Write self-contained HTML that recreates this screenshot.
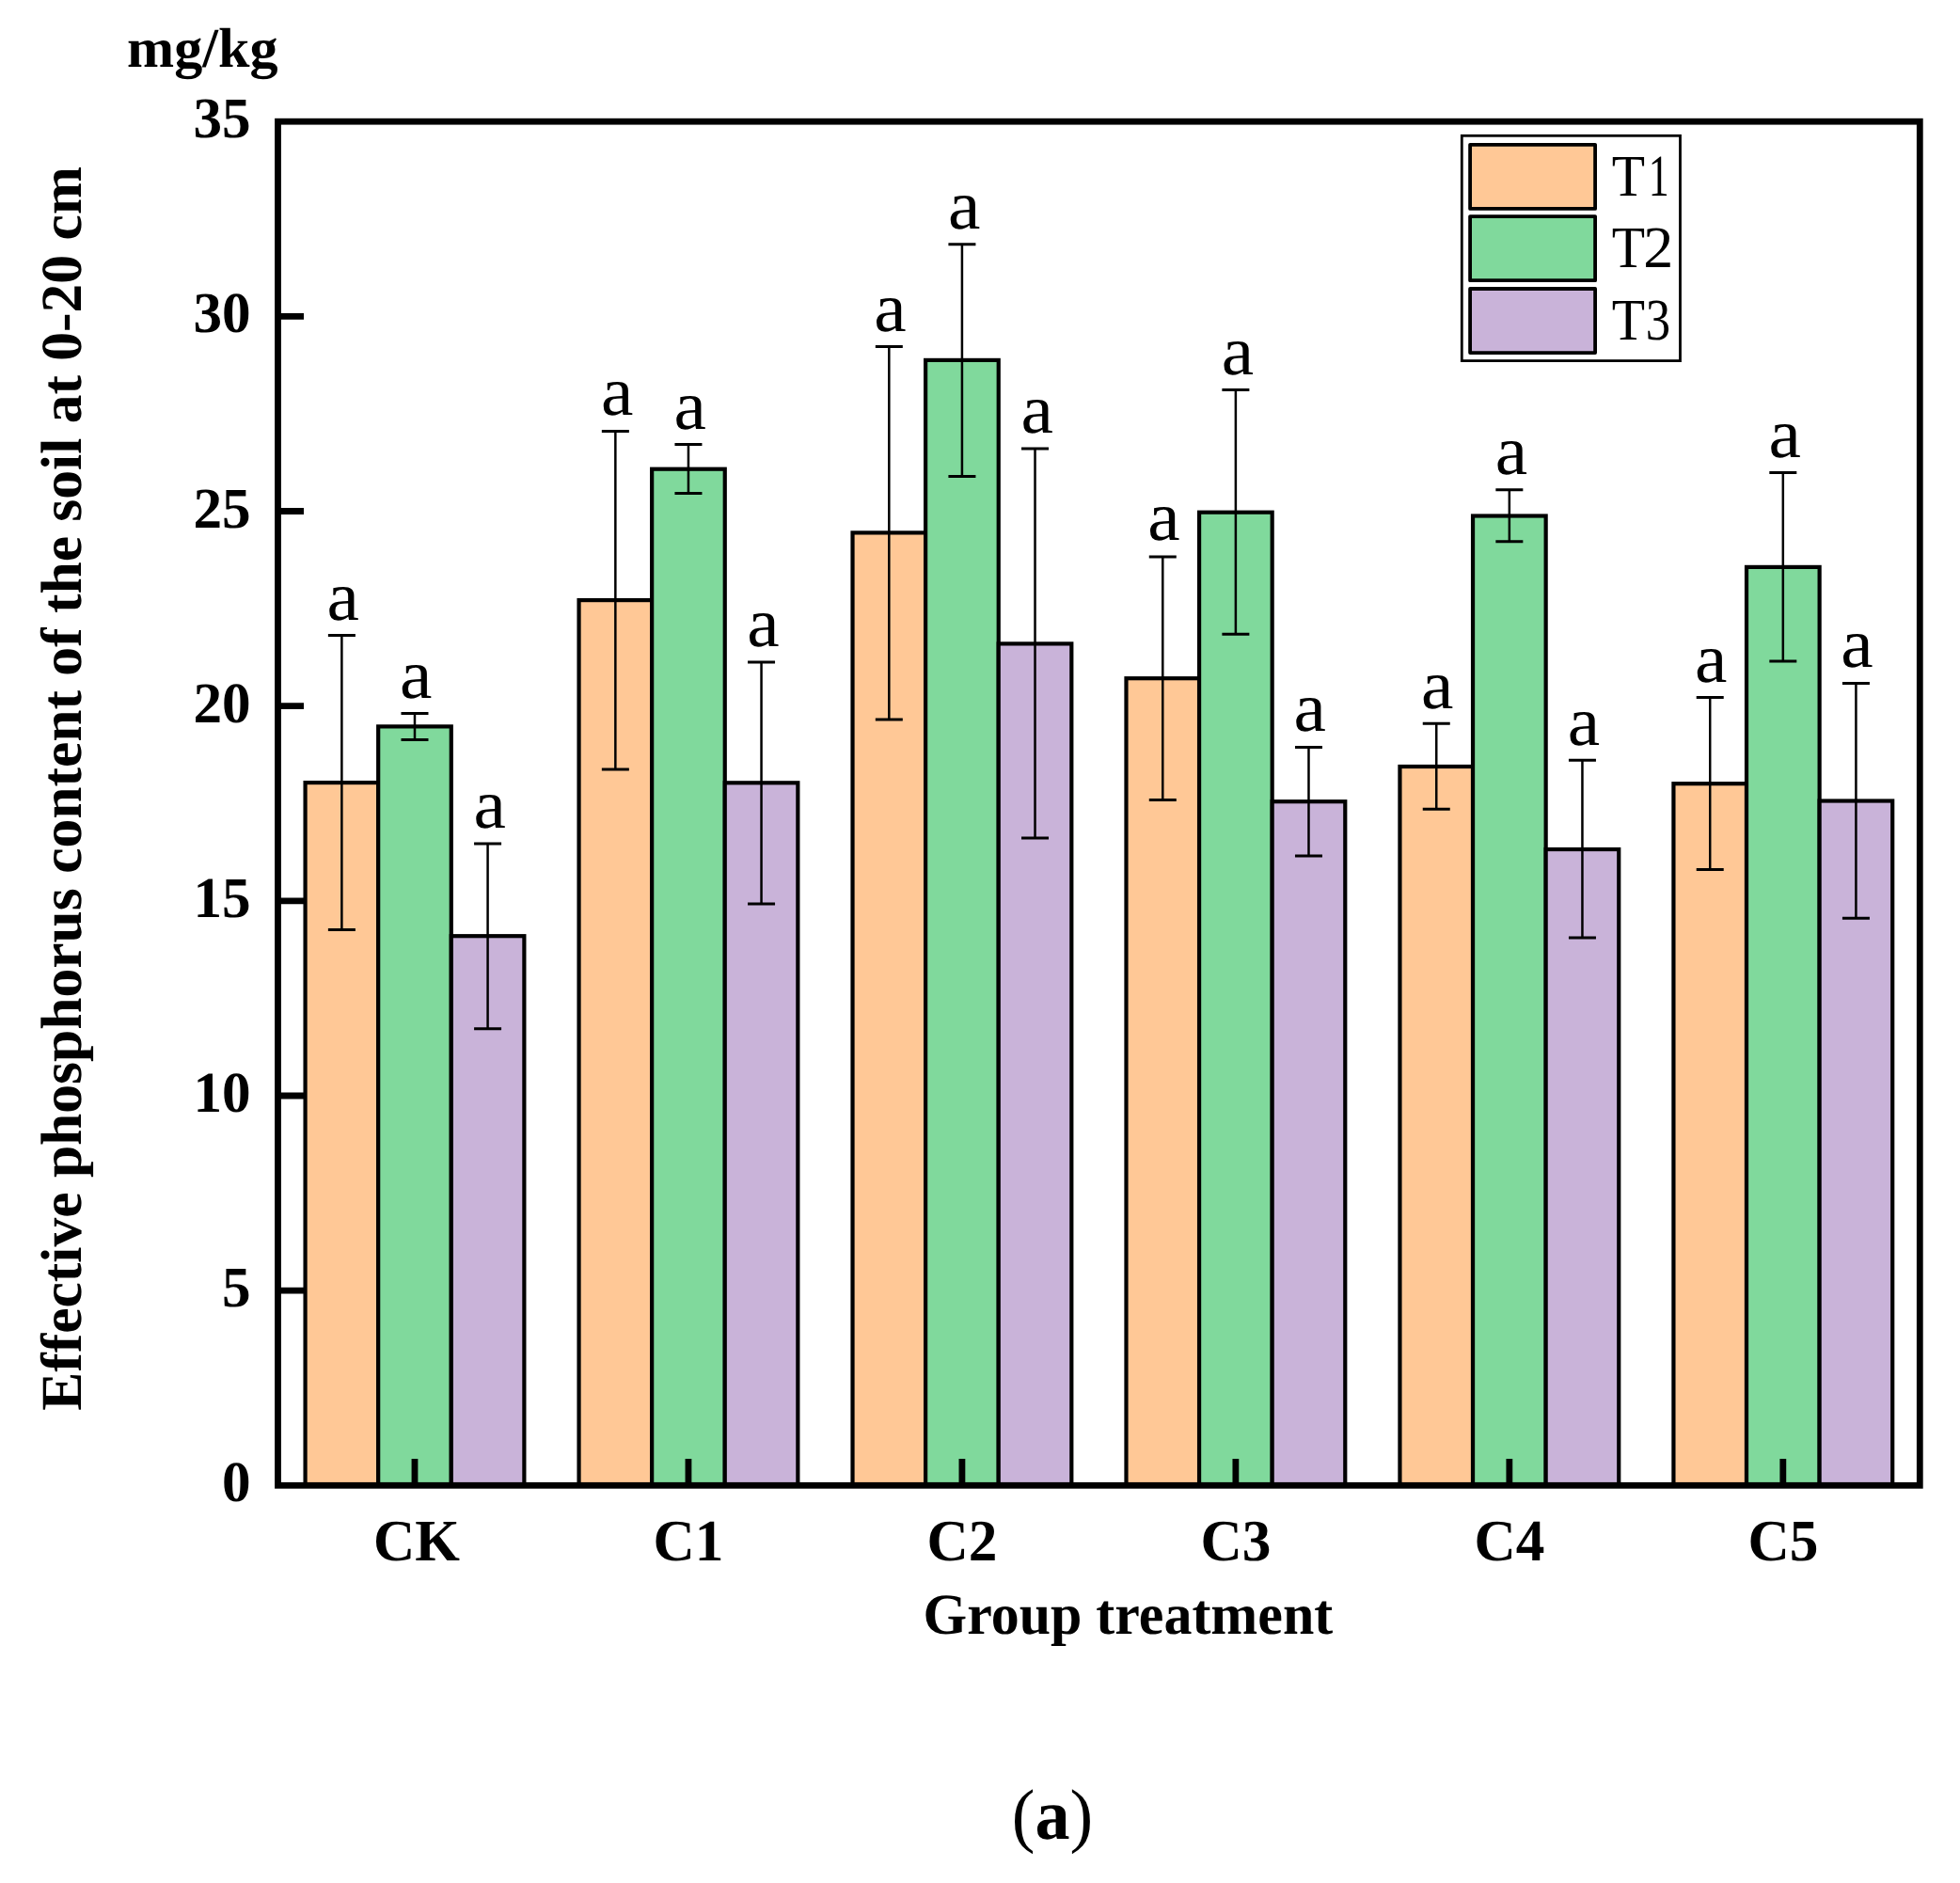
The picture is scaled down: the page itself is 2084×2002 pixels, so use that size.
<!DOCTYPE html>
<html lang="en"><head><meta charset="utf-8"><title>Effective phosphorus content of the soil at 0-20 cm</title>
<style>
html,body{margin:0;padding:0;background:#fff;}
body{width:2084px;height:2002px;overflow:hidden;}
svg{display:block;}
text{font-family:"Liberation Serif",serif;fill:#000;text-rendering:geometricPrecision;}
.b{font-weight:bold;}
</style></head><body>
<svg width="2084" height="2002" viewBox="0 0 2084 2002">
<rect x="0" y="0" width="2084" height="2002" fill="#fff"/>
<g stroke="#000" stroke-width="4.2" stroke-linejoin="miter">
<rect x="324.58" y="832.1" width="77.6" height="747.2" fill="#FFC896"/>
<rect x="402.18" y="772.4" width="77.6" height="806.9" fill="#80D99C"/>
<rect x="479.78" y="995.2" width="77.6" height="584.1" fill="#C9B3D9"/>
<rect x="615.55" y="638.1" width="77.6" height="941.2" fill="#FFC896"/>
<rect x="693.15" y="498.7" width="77.6" height="1080.6" fill="#80D99C"/>
<rect x="770.75" y="832.3" width="77.6" height="747" fill="#C9B3D9"/>
<rect x="906.52" y="566.4" width="77.6" height="1012.9" fill="#FFC896"/>
<rect x="984.12" y="382.9" width="77.6" height="1196.4" fill="#80D99C"/>
<rect x="1061.72" y="684.4" width="77.6" height="894.9" fill="#C9B3D9"/>
<rect x="1197.48" y="721.2" width="77.6" height="858.1" fill="#FFC896"/>
<rect x="1275.08" y="544.7" width="77.6" height="1034.6" fill="#80D99C"/>
<rect x="1352.68" y="852.2" width="77.6" height="727.1" fill="#C9B3D9"/>
<rect x="1488.45" y="815" width="77.6" height="764.3" fill="#FFC896"/>
<rect x="1566.05" y="548.5" width="77.6" height="1030.8" fill="#80D99C"/>
<rect x="1643.65" y="903" width="77.6" height="676.3" fill="#C9B3D9"/>
<rect x="1779.42" y="833.2" width="77.6" height="746.1" fill="#FFC896"/>
<rect x="1857.02" y="602.9" width="77.6" height="976.4" fill="#80D99C"/>
<rect x="1934.62" y="851.5" width="77.6" height="727.8" fill="#C9B3D9"/>
</g>
<g stroke="#000" stroke-width="3" fill="none" stroke-linecap="butt">
<path stroke-width="2.5" d="M363.38 675.6V988.6"/><path d="M348.88 675.6H377.88M348.88 988.6H377.88"/>
<path stroke-width="2.5" d="M440.98 758.5V786.6"/><path d="M426.48 758.5H455.48M426.48 786.6H455.48"/>
<path stroke-width="2.5" d="M518.58 897V1093.7"/><path d="M504.08 897H533.08M504.08 1093.7H533.08"/>
<path stroke-width="2.5" d="M654.35 458.6V818"/><path d="M639.85 458.6H668.85M639.85 818H668.85"/>
<path stroke-width="2.5" d="M731.95 472.6V524.5"/><path d="M717.45 472.6H746.45M717.45 524.5H746.45"/>
<path stroke-width="2.5" d="M809.55 703.9V961"/><path d="M795.05 703.9H824.05M795.05 961H824.05"/>
<path stroke-width="2.5" d="M945.32 368.6V765"/><path d="M930.82 368.6H959.82M930.82 765H959.82"/>
<path stroke-width="2.5" d="M1022.92 259.7V506.5"/><path d="M1008.42 259.7H1037.42M1008.42 506.5H1037.42"/>
<path stroke-width="2.5" d="M1100.52 477V890.9"/><path d="M1086.02 477H1115.02M1086.02 890.9H1115.02"/>
<path stroke-width="2.5" d="M1236.28 591.9V850.4"/><path d="M1221.78 591.9H1250.78M1221.78 850.4H1250.78"/>
<path stroke-width="2.5" d="M1313.88 414.5V674.3"/><path d="M1299.38 414.5H1328.38M1299.38 674.3H1328.38"/>
<path stroke-width="2.5" d="M1391.48 794.4V910"/><path d="M1376.98 794.4H1405.98M1376.98 910H1405.98"/>
<path stroke-width="2.5" d="M1527.25 769.3V860.3"/><path d="M1512.75 769.3H1541.75M1512.75 860.3H1541.75"/>
<path stroke-width="2.5" d="M1604.85 520.7V575.8"/><path d="M1590.35 520.7H1619.35M1590.35 575.8H1619.35"/>
<path stroke-width="2.5" d="M1682.45 808.3V997"/><path d="M1667.95 808.3H1696.95M1667.95 997H1696.95"/>
<path stroke-width="2.5" d="M1818.22 741.5V924.5"/><path d="M1803.72 741.5H1832.72M1803.72 924.5H1832.72"/>
<path stroke-width="2.5" d="M1895.82 502.6V703.1"/><path d="M1881.32 502.6H1910.32M1881.32 703.1H1910.32"/>
<path stroke-width="2.5" d="M1973.42 726.5V976.3"/><path d="M1958.92 726.5H1987.92M1958.92 976.3H1987.92"/>
</g>
<g stroke="#000" stroke-width="6.8" fill="none" stroke-linecap="butt">
<rect x="295.5" y="129.2" width="1745.8" height="1450.1"/>
<path d="M295.5 1372.14H323M295.5 1164.99H323M295.5 957.83H323M295.5 750.67H323M295.5 543.51H323M295.5 336.36H323M440.98 1579.3V1551M731.95 1579.3V1551M1022.92 1579.3V1551M1313.88 1579.3V1551M1604.85 1579.3V1551M1895.82 1579.3V1551"/>
</g>
<g font-size="74.5" text-anchor="middle">
<text transform="translate(364.58 659.2) scale(1.04 1)">a</text>
<text transform="translate(442.28 742) scale(1.04 1)">a</text>
<text transform="translate(520.68 880.3) scale(1.04 1)">a</text>
<text transform="translate(656.25 441.2) scale(1.04 1)">a</text>
<text transform="translate(733.75 456.2) scale(1.04 1)">a</text>
<text transform="translate(811.55 686.7) scale(1.04 1)">a</text>
<text transform="translate(946.42 351.8) scale(1.04 1)">a</text>
<text transform="translate(1025.22 243) scale(1.04 1)">a</text>
<text transform="translate(1102.62 459.5) scale(1.04 1)">a</text>
<text transform="translate(1237.38 574.2) scale(1.04 1)">a</text>
<text transform="translate(1315.98 397.8) scale(1.04 1)">a</text>
<text transform="translate(1392.58 776.9) scale(1.04 1)">a</text>
<text transform="translate(1528.15 752.8) scale(1.04 1)">a</text>
<text transform="translate(1606.85 504) scale(1.04 1)">a</text>
<text transform="translate(1683.85 791.9) scale(1.04 1)">a</text>
<text transform="translate(1819.12 724.8) scale(1.04 1)">a</text>
<text transform="translate(1897.72 485.9) scale(1.04 1)">a</text>
<text transform="translate(1974.52 709.4) scale(1.04 1)">a</text>
</g>
<g class="b" font-size="61.2" text-anchor="end">
<text transform="translate(266.7 1596.3) scale(1 1)">0</text>
<text transform="translate(266.7 1389.14) scale(1 1)">5</text>
<text transform="translate(266.7 1181.99) scale(1 1)">10</text>
<text transform="translate(266.7 974.83) scale(1 1)">15</text>
<text transform="translate(266.7 767.67) scale(1 1)">20</text>
<text transform="translate(266.7 560.51) scale(1 1)">25</text>
<text transform="translate(266.7 353.36) scale(1 1)">30</text>
<text transform="translate(266.7 146.2) scale(1 1)">35</text>
</g>
<g class="b" font-size="62.5" text-anchor="middle">
<text transform="translate(442.98 1659) scale(0.98 1)">CK</text>
<text transform="translate(731.95 1659) scale(0.98 1)">C1</text>
<text transform="translate(1022.92 1659) scale(0.98 1)">C2</text>
<text transform="translate(1313.88 1659) scale(0.98 1)">C3</text>
<text transform="translate(1604.85 1659) scale(0.98 1)">C4</text>
<text transform="translate(1895.82 1659) scale(0.98 1)">C5</text>
</g>
<text class="b" font-size="61.5" text-anchor="middle" textLength="435.6" lengthAdjust="spacingAndGlyphs" x="1199.4" y="1736.6">Group treatment</text>
<text class="b" font-size="61.5" text-anchor="middle" textLength="1322.8" lengthAdjust="spacing" transform="translate(86 838.4) rotate(-90)">Effective phosphorus content of the soil at 0-20 cm</text>
<text class="b" font-size="59.6" transform="translate(135 71.2) scale(1.01 1)">mg/kg</text>
<rect x="1554.3" y="144.3" width="232.2" height="239.3" fill="#fff" stroke="#000" stroke-width="2.8"/>
<g stroke="#000" stroke-width="3.8" stroke-linejoin="round">
<rect x="1563.1" y="153.8" width="133" height="68.1" fill="#FFC896"/>
<rect x="1563.1" y="230.1" width="133" height="68.1" fill="#80D99C"/>
<rect x="1563.1" y="307" width="133" height="68.1" fill="#C9B3D9"/>
</g>
<text font-size="62.8" transform="translate(1713.7 208.1) scale(0.92 1)">T<tspan dx="4" textLength="23.9" lengthAdjust="spacingAndGlyphs">1</tspan></text>
<text font-size="62.8" transform="translate(1713.7 284.4) scale(0.92 1)">T<tspan dx="-1.8" textLength="34.8" lengthAdjust="spacingAndGlyphs">2</tspan></text>
<text font-size="62.8" transform="translate(1713.7 360.9) scale(0.92 1)">T<tspan dx="0.76" textLength="28.7" lengthAdjust="spacingAndGlyphs">3</tspan></text>
<text font-size="76" text-anchor="middle" transform="translate(1119.0 1955.0) scale(0.975 1)">(<tspan class="b">a</tspan>)</text>
</svg>
</body></html>
